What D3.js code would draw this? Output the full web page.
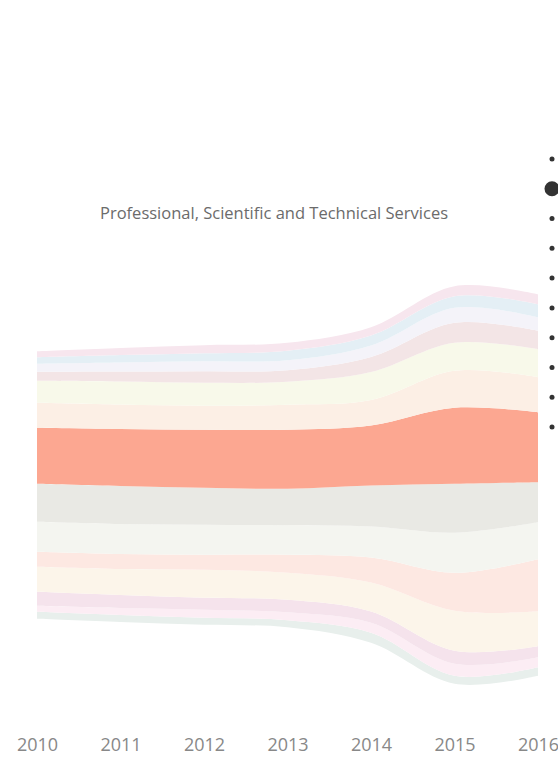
<!DOCTYPE html>
<html>
<head>
  <meta charset="utf-8">
  <title>Industry Streamgraph</title>
  <style>
    body { margin: 0; background: #fff; overflow: hidden; }
    svg { display: block; font-family: "Open Sans", sans-serif; }
  </style>
</head>
<body>
  <script src="https://d3js.org/d3.v7.min.js"></script>
  <script type="text/javascript">

var years = [2010, 2011, 2012, 2013, 2014, 2015, 2016];

// stream layers, listed top to bottom (thousands)
var layerNames = ["A", "B", "C", "D", "E", "F", "G", "H", "I", "J", "K", "L", "M", "N"];
var pinkTop    = [6, 7, 8, 8, 8.3, 10, 10];
var blue       = [6.5, 7.5, 8, 9.5, 10, 11.5, 13];
var lavender   = [8, 9, 10, 10, 11.5, 15, 13.5];
var rose       = [9, 10, 11.5, 11.5, 15, 20, 18.5];
var yellow     = [22, 23, 23, 23, 28, 28, 28];
var peach      = [25, 24.5, 24, 25, 25.5, 37, 35];
var salmon     = [56, 57, 58, 59, 60, 76, 70];
var grey       = [38, 38, 37, 36.5, 41, 49, 40];
var offwhite   = [30, 30, 30, 29.5, 31, 40, 37];
var lightPink  = [15, 15, 15, 18, 25, 38, 52];
var cream      = [25, 26, 28, 27, 29, 40, 35];
var mauve      = [14, 13, 12, 12.5, 11.3, 13, 11];
var lightPink2 = [6, 7, 8, 8, 10, 12, 10];
var green      = [7, 7, 7, 7, 10, 8, 8.5];

var layerValues = [pinkTop, blue, lavender, rose, yellow, peach, salmon,
                   grey, offwhite, lightPink, cream, mauve, lightPink2, green];
var layerColors = ["#f7e6ee", "#e4eff5", "#f4f3f9", "#f3e5e6", "#f8f9ea", "#fcefe5", "#fca791",
                   "#e9e9e4", "#f4f5f0", "#fde8e2", "#fcf5ea", "#f5e3ec", "#fcedf4", "#e8efec"];

var industries = ["Construction", "Professional, Scientific and Technical Services",
  "Health Care and Social Assistance", "Retail Trade", "Manufacturing",
  "Education and Training", "Accommodation and Food Services",
  "Financial and Insurance Services", "Transport, Postal and Warehousing",
  "Public Administration and Safety"];
var selected = 1;

var width = 558, height = 765;

var svg = d3.select("body").append("svg")
    .attr("width", width)
    .attr("height", height);

// build table for stack: bottom layer first
var table = years.map(function(y, i) {
  var row = { year: y };
  layerNames.forEach(function(k, j) { row[k] = layerValues[j][i]; });
  return row;
});

var keys = layerNames.slice().reverse();
var colorOf = {};
layerNames.forEach(function(k, j) { colorOf[k] = layerColors[j]; });

var stack = d3.stack()
    .keys(keys)
    .offset(d3.stackOffsetSilhouette);

var series = stack(table);

var x = d3.scaleLinear().domain([2010, 2016]).range([37, 538]);
var y = d3.scaleLinear().domain([-250, 250]).range([735, 235]);

var area = d3.area()
    .x(function(d) { return x(d.data.year); })
    .y0(function(d) { return y(d[0]); })
    .y1(function(d) { return y(d[1]); })
    .curve(d3.curveCatmullRom);

svg.append("g").selectAll("path")
    .data(series)
    .enter().append("path")
    .attr("d", area)
    .style("fill", function(d) { return colorOf[d.key]; });

// x axis labels
var xAxis = d3.axisBottom(x)
    .tickValues(years)
    .tickFormat(d3.format("d"))
    .tickSize(0)
    .tickPadding(0);

var gx = svg.append("g")
    .attr("transform", "translate(0,738)")
    .call(xAxis);
gx.select(".domain").remove();
gx.selectAll("text")
    .style("font-family", "Open Sans, sans-serif")
    .style("font-size", "18px")
    .style("fill", "#888");

// title
svg.append("text")
    .attr("x", 274)
    .attr("y", 219)
    .attr("text-anchor", "middle")
    .style("font-size", "16.5px")
    .style("fill", "#6b6b6b")
    .text(industries[selected]);

// legend dots (labels fall outside the frame)
var ly = d3.scalePoint().domain(d3.range(industries.length)).range([159, 427]);
svg.append("g").selectAll("circle")
    .data(industries)
    .enter().append("circle")
    .attr("cx", 552)
    .attr("cy", function(d, i) { return ly(i); })
    .attr("r", function(d, i) { return i === selected ? 7.5 : 2.5; })
    .style("fill", "#333");

  </script>
</body>
</html>
